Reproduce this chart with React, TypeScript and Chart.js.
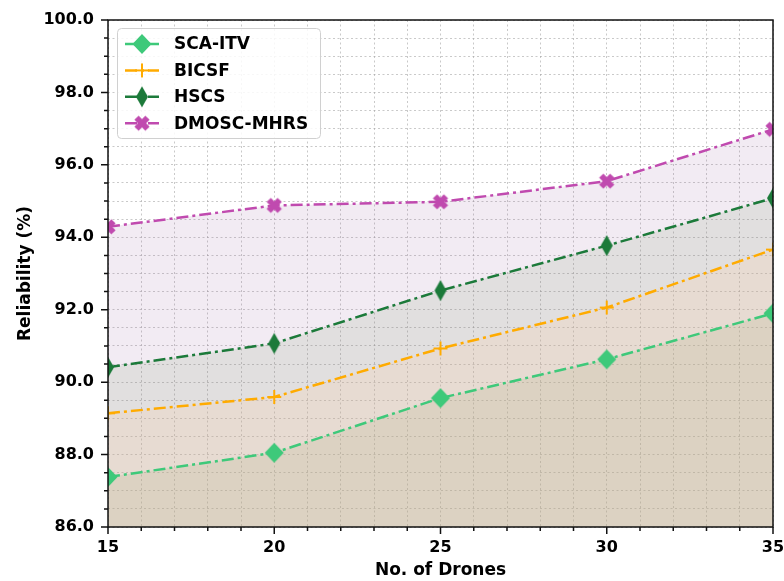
import React, { useEffect, useRef } from 'react';
import { Chart, registerables } from 'chart.js';

Chart.register(...registerables);

const drones = [15, 20, 25, 30, 35];
const scaItv = [87.38, 88.05, 89.56, 90.63, 91.9];
const bicsf = [89.14, 89.59, 90.93, 92.06, 93.66];
const hscs = [90.41, 91.07, 92.53, 93.77, 95.08];
const dmoscMhrs = [94.29, 94.88, 94.98, 95.55, 96.98];
const seriesNames = ['SCA-ITV', 'BICSF', 'HSCS', 'DMOSC-MHRS'];
const xTickLabels = [15, 20, 25, 30, 35];
const yTickLabels = [86, 88, 90, 92, 94, 96, 98, 100];

const FONT = '"DejaVu Sans", sans-serif';
const DASH = [12, 4, 3, 4];

function makeMarker(kind: string, color: string): HTMLCanvasElement {
  const c = document.createElement('canvas');
  const s = 24;
  c.width = s;
  c.height = s;
  const g = c.getContext('2d')!;
  const m = s / 2;
  g.fillStyle = color;
  g.strokeStyle = color;
  if (kind === 'D' || kind === 'd') {
    const hw = kind === 'D' ? 9.5 : 6;
    const hh = kind === 'D' ? 10 : 10.5;
    g.beginPath();
    g.moveTo(m, m - hh);
    g.lineTo(m + hw, m);
    g.lineTo(m, m + hh);
    g.lineTo(m - hw, m);
    g.closePath();
    g.fill();
  } else if (kind === '+') {
    g.lineWidth = 2;
    g.beginPath();
    g.moveTo(m - 7, m);
    g.lineTo(m + 7, m);
    g.moveTo(m, m - 7);
    g.lineTo(m, m + 7);
    g.stroke();
  } else if (kind === 'X') {
    g.lineWidth = 6;
    g.lineCap = 'butt';
    g.beginPath();
    g.moveTo(m - 5.5, m - 5.5);
    g.lineTo(m + 5.5, m + 5.5);
    g.moveTo(m + 5.5, m - 5.5);
    g.lineTo(m - 5.5, m + 5.5);
    g.stroke();
  }
  return c;
}

export default function App() {
  const ref = useRef<HTMLCanvasElement | null>(null);

  useEffect(() => {
    document.body.style.margin = '0';
    const canvas = ref.current!;
    const colors = ['#3ec97a', '#ffab00', '#1c7a3a', '#c04aaf'];
    const fills = [
      'rgba(140,145,86,0.12)',
      'rgba(255,204,159,0.2)',
      'rgba(109,143,85,0.12)',
      'rgba(147,88,155,0.12)',
    ];
    const kinds = ['D', '+', 'd', 'X'];
    const markers = kinds.map((k, i) => makeMarker(k, colors[i]));
    const series = [scaItv, bicsf, hscs, dmoscMhrs];

    const framePlugin = {
      id: 'frameTicks',
      afterDraw(chart: any) {
        const ctx = chart.ctx;
        const a = chart.chartArea;
        const xs = chart.scales.x;
        const ys = chart.scales.y;
        ctx.save();
        ctx.strokeStyle = '#111';
        ctx.lineWidth = 1.5;
        ctx.setLineDash([]);
        ctx.strokeRect(a.left, a.top, a.right - a.left, a.bottom - a.top);
        ctx.beginPath();
        for (let v = 15; v <= 35; v += 1) {
          const px = xs.getPixelForValue(v);
          const len = xTickLabels.includes(v) ? 7 : 4;
          ctx.moveTo(px, a.bottom);
          ctx.lineTo(px, a.bottom + len);
        }
        for (let v = 86; v <= 100; v += 0.5) {
          const py = ys.getPixelForValue(v);
          const len = yTickLabels.includes(v) ? 7 : 4;
          ctx.moveTo(a.left, py);
          ctx.lineTo(a.left - len, py);
        }
        ctx.stroke();

        // legend
        const bx = 117.5, by = 28.5, bw = 203, bh = 110, r = 4;
        ctx.beginPath();
        ctx.moveTo(bx + r, by);
        ctx.lineTo(bx + bw - r, by);
        ctx.quadraticCurveTo(bx + bw, by, bx + bw, by + r);
        ctx.lineTo(bx + bw, by + bh - r);
        ctx.quadraticCurveTo(bx + bw, by + bh, bx + bw - r, by + bh);
        ctx.lineTo(bx + r, by + bh);
        ctx.quadraticCurveTo(bx, by + bh, bx, by + bh - r);
        ctx.lineTo(bx, by + r);
        ctx.quadraticCurveTo(bx, by, bx + r, by);
        ctx.closePath();
        ctx.fillStyle = 'rgba(255,255,255,0.85)';
        ctx.fill();
        ctx.strokeStyle = '#d0d0d0';
        ctx.lineWidth = 1;
        ctx.stroke();
        for (let i = 0; i < seriesNames.length; i++) {
          const y = 44 + i * 26.4;
          ctx.strokeStyle = colors[i];
          ctx.lineWidth = 2.5;
          ctx.setLineDash(DASH);
          ctx.beginPath();
          ctx.moveTo(125, y);
          ctx.lineTo(159, y);
          ctx.stroke();
          ctx.setLineDash([]);
          const mk = markers[i];
          ctx.drawImage(mk, 142 - mk.width / 2, y - mk.height / 2);
          ctx.fillStyle = '#000';
          ctx.font = `bold 17px ${FONT}`;
          ctx.textBaseline = 'middle';
          ctx.textAlign = 'left';
          ctx.fillText(seriesNames[i], 174, y + 1);
        }
        ctx.restore();
      },
    };

    const chart = new Chart(canvas, {
      type: 'line',
      data: {
        datasets: series.map((s, i) => ({
          label: seriesNames[i],
          data: drones.map((x, j) => ({ x, y: s[j] })),
          borderColor: colors[i],
          backgroundColor: fills[i],
          borderWidth: 2.5,
          borderDash: DASH,
          fill: 'start',
          tension: 0,
          pointStyle: markers[i] as any,
          pointRadius: 8,
          pointHoverRadius: 8,
          clip: 0,
        })),
      },
      options: {
        animation: false,
        responsive: false,
        events: [],
        layout: { padding: { top: 20, right: 11, left: 0, bottom: 0 } },
        plugins: {
          legend: { display: false },
          tooltip: { enabled: false },
        },
        scales: {
          x: {
            type: 'linear',
            min: 15,
            max: 35,
            afterFit: (s: any) => { s.height = 54; s.paddingLeft = 0; s.paddingRight = 0; },
            ticks: {
              stepSize: 1,
              autoSkip: false,
              maxRotation: 0,
              padding: 4,
              color: '#000',
              font: { family: FONT, size: 16, weight: 'bold' },
              callback: (v: any) => (xTickLabels.includes(Number(v)) ? String(v) : ''),
            },
            grid: {
              color: 'rgba(165,165,165,0.6)',
              lineWidth: 1,
              drawTicks: true,
              tickLength: 7,
              tickColor: 'transparent',
            },
            border: { display: false, dash: [2, 2.5] },
            title: {
              display: true,
              text: 'No. of Drones',
              color: '#000',
              font: { family: FONT, size: 17, weight: 'bold' },
              padding: { top: 0, bottom: 0 },
            },
          },
          y: {
            type: 'linear',
            min: 86,
            max: 100,
            afterFit: (s: any) => { s.width = 108; s.paddingTop = 0; s.paddingBottom = 0; },
            ticks: {
              stepSize: 0.5,
              autoSkip: false,
              padding: 7,
              color: '#000',
              font: { family: FONT, size: 16, weight: 'bold' },
              callback: (v: any) => (yTickLabels.includes(Number(v)) ? Number(v).toFixed(1) : ''),
            },
            grid: {
              color: 'rgba(165,165,165,0.6)',
              lineWidth: 1,
              drawTicks: true,
              tickLength: 7,
              tickColor: 'transparent',
            },
            border: { display: false, dash: [2, 2.5] },
            title: {
              display: true,
              text: 'Reliability (%)',
              color: '#000',
              font: { family: FONT, size: 17, weight: 'bold' },
              padding: { top: 15, bottom: 0 },
            },
          },
        },
      },
      plugins: [framePlugin],
    } as any);

    return () => chart.destroy();
  }, []);

  return (
    <div style={{ position: 'absolute', left: 0, top: 0, width: 784, height: 581 }}>
      <canvas ref={ref} width={784} height={581} style={{ width: 784, height: 581 }} />
    </div>
  );
}
